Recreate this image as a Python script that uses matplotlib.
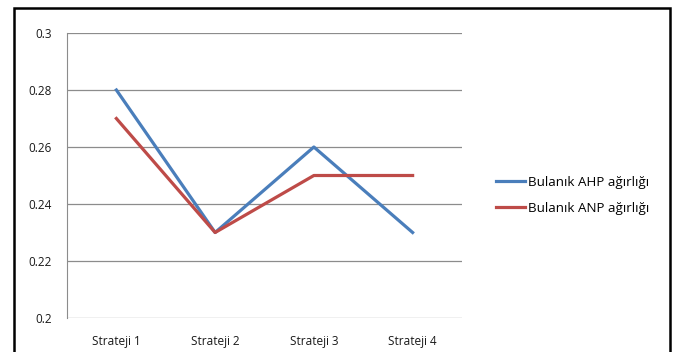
import matplotlib.pyplot as plt
from matplotlib.patches import Rectangle
from matplotlib.ticker import FuncFormatter

categories = ["Strateji 1", "Strateji 2", "Strateji 3", "Strateji 4"]
ahp = [0.28, 0.23, 0.26, 0.23]
anp = [0.27, 0.23, 0.25, 0.25]
labels = ["Bulanık AHP ağırlığı", "Bulanık ANP ağırlığı"]
yticks = [0.2, 0.22, 0.24, 0.26, 0.28, 0.3]

plt.rcParams['font.family'] = ['Open Sans', 'DejaVu Sans']

fig = plt.figure(figsize=(6.73, 3.52), dpi=100)
ax = fig.add_axes([67 / 673, 1 - 318 / 352, 395 / 673, 285 / 352])

x = [i + 0.5 for i in range(len(categories))]
ax.plot(x, ahp, color="#4A7EBB", lw=2.3, label=labels[0])
ax.plot(x, anp, color="#BE4B48", lw=2.3, label=labels[1])

ax.set_xlim(0, 4)
ax.set_ylim(0.2, 0.3)
ax.set_yticks(yticks)
ax.yaxis.set_major_formatter(FuncFormatter(lambda v, p: f"{v:g}"))
ax.set_xticks(x)
ax.set_xticklabels(categories)
ax.tick_params(axis="both", length=0, labelsize=8.5, colors="#1a1a1a")
ax.tick_params(axis="x", pad=12)
ax.tick_params(axis="y", pad=11)
ax.grid(axis="y", color="#8c8c8c", lw=0.9)
ax.set_axisbelow(True)
for s in ["top", "right", "bottom"]:
    ax.spines[s].set_visible(False)
ax.spines["left"].set_color("#8c8c8c")

ax.legend(loc="center left", bbox_to_anchor=(1.055, 0.43), frameon=False,
          fontsize=9.6, handlelength=2.2, handletextpad=0.2, labelspacing=1.0)

# outer chart border
fig.patches.append(Rectangle((14 / 673, -0.1), 656 / 673, 1.1 - 8 / 352,
                             transform=fig.transFigure, fill=False,
                             edgecolor="black", lw=1.8))

fig.savefig("out.png", dpi=100)
